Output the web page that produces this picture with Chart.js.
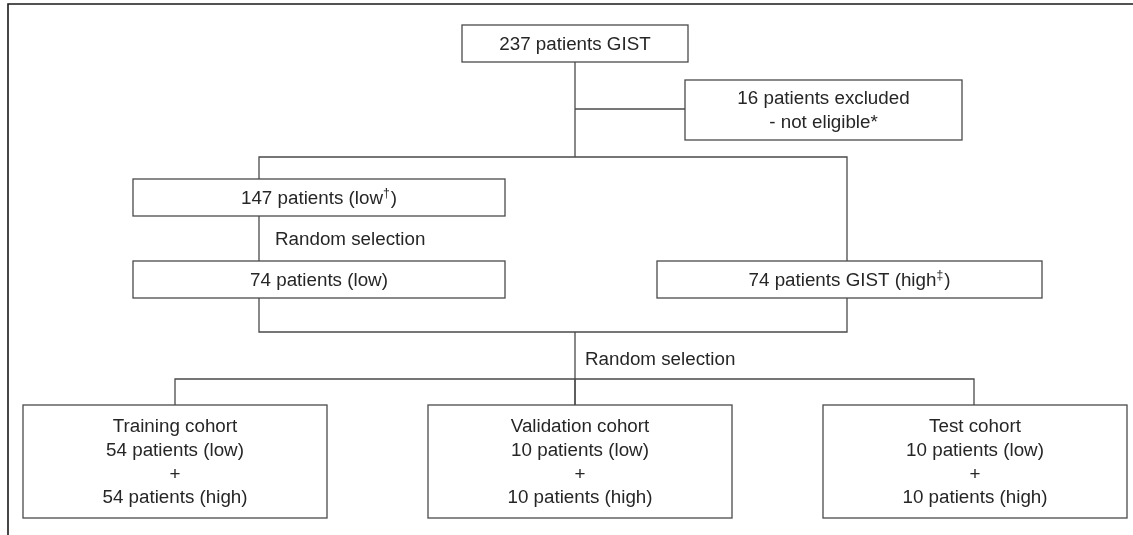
<!DOCTYPE html>
<html>
<head>
<meta charset="utf-8">
<script src="https://cdn.jsdelivr.net/npm/chart.js"></script>
<style>
  html, body { margin: 0; padding: 0; background: #fff; }
  #wrap { width: 1133px; height: 535px; }
</style>
</head>
<body>
<div id="wrap"><canvas id="flow"></canvas></div>
<script>
// flow chart content
const nodeLabels = [
  ['237 patients GIST'],
  ['16 patients excluded', '- not eligible*'],
  ['147 patients (low^†)'],
  ['74 patients (low)'],
  ['74 patients GIST (high^‡)'],
  ['Training cohort', '54 patients (low)', '+', '54 patients (high)'],
  ['Validation cohort', '10 patients (low)', '+', '10 patients (high)'],
  ['Test cohort', '10 patients (low)', '+', '10 patients (high)']
];
const stepLabels = ['Random selection', 'Random selection'];

// box extents in diagram units [x1, y1, x2, y2]
const nodeBoxes = [
  [462, 25, 688, 62],
  [685, 80, 962, 140],
  [133, 179, 505, 216],
  [133, 261, 505, 298],
  [657, 261, 1042, 298],
  [23, 405, 327, 518],
  [428, 405, 732, 518],
  [823, 405, 1127, 518]
];
const stepPos = [[275, 240], [585, 360]];

// connector polylines
const links = [
  [[575, 62], [575, 157]],
  [[575, 109], [685, 109]],
  [[259, 179], [259, 157], [847, 157], [847, 261]],
  [[259, 216], [259, 261]],
  [[259, 298], [259, 332], [847, 332], [847, 298]],
  [[575, 332], [575, 405]],
  [[175, 405], [175, 379], [974, 379], [974, 405]],
  [[575, 379], [575, 405]]
];
const frame = [[8, 535], [8, 4], [1133, 4]];

const FONT = '"Liberation Sans", Arial, sans-serif';
const TEXT_COLOR = '#262626';
const SIZE = 18.8;

const datasets = links.map(l => ({
  data: l.map(p => ({ x: p[0], y: p[1] })),
  showLine: true,
  borderColor: '#4a4a4a',
  borderWidth: 1.3,
  pointRadius: 0,
  fill: false
}));
datasets.push({
  data: frame.map(p => ({ x: p[0], y: p[1] })),
  showLine: true,
  borderColor: '#1a1a1a',
  borderWidth: 1.6,
  pointRadius: 0,
  fill: false
});

function drawRich(ctx, str, cx, cy, size) {
  // "^" marks a one-character superscript
  const parts = [];
  const idx = str.indexOf('^');
  if (idx >= 0) {
    parts.push({ t: str.slice(0, idx), sup: false });
    parts.push({ t: str.slice(idx + 1, idx + 2), sup: true });
    parts.push({ t: str.slice(idx + 2), sup: false });
  } else {
    parts.push({ t: str, sup: false });
  }
  let total = 0;
  parts.forEach(p => {
    ctx.font = (p.sup ? size * 0.65 : size) + 'px ' + FONT;
    p.w = ctx.measureText(p.t).width + (p.sup ? 1 : 0);
    total += p.w;
  });
  let x = cx - total / 2;
  ctx.textAlign = 'left';
  ctx.textBaseline = 'middle';
  parts.forEach(p => {
    ctx.font = (p.sup ? size * 0.65 : size) + 'px ' + FONT;
    ctx.fillText(p.t, x, p.sup ? cy - size * 0.28 : cy);
    x += p.w;
  });
}

const boxPlugin = {
  id: 'boxes',
  afterDatasetsDraw(chart) {
    const ctx = chart.ctx;
    const xs = chart.scales.x, ys = chart.scales.y;
    ctx.save();
    nodeBoxes.forEach((b, i) => {
      const x1 = xs.getPixelForValue(b[0]), y1 = ys.getPixelForValue(b[1]);
      const x2 = xs.getPixelForValue(b[2]), y2 = ys.getPixelForValue(b[3]);
      ctx.fillStyle = '#fff';
      ctx.fillRect(x1, y1, x2 - x1, y2 - y1);
      ctx.strokeStyle = '#4a4a4a';
      ctx.lineWidth = 1.3;
      ctx.strokeRect(x1, y1, x2 - x1, y2 - y1);
      const lines = nodeLabels[i];
      const lh = 23.8;
      const cy = (y1 + y2) / 2 + 1;
      const cx = (x1 + x2) / 2;
      ctx.fillStyle = TEXT_COLOR;
      lines.forEach((ln, k) => {
        const y = cy + (k - (lines.length - 1) / 2) * lh;
        drawRich(ctx, ln, cx, y, SIZE);
      });
    });
    stepLabels.forEach((s, i) => {
      ctx.font = SIZE + 'px ' + FONT;
      ctx.fillStyle = TEXT_COLOR;
      ctx.textAlign = 'left';
      ctx.textBaseline = 'middle';
      ctx.fillText(s, xs.getPixelForValue(stepPos[i][0]), ys.getPixelForValue(stepPos[i][1]));
    });
    ctx.restore();
  }
};

new Chart(document.getElementById('flow'), {
  type: 'scatter',
  data: { datasets: datasets },
  options: {
    responsive: true,
    maintainAspectRatio: false,
    animation: false,
    layout: { padding: 0 },
    plugins: { legend: { display: false }, tooltip: { enabled: false } },
    scales: {
      x: { type: 'linear', min: 0, max: 1133, display: false },
      y: { type: 'linear', min: 0, max: 535, reverse: true, display: false }
    }
  },
  plugins: [boxPlugin]
});
</script>
</body>
</html>
